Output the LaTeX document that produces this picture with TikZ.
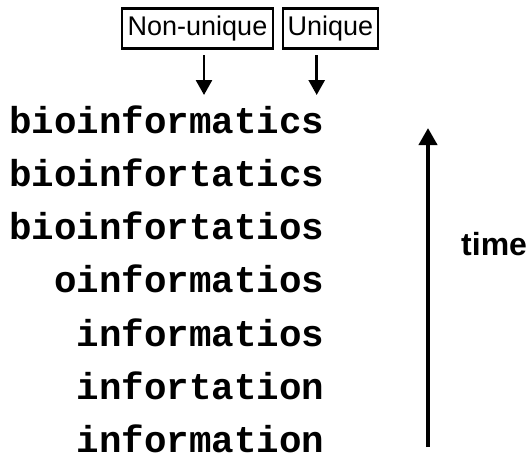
\documentclass[tikz,border=0pt]{standalone}
\usepackage{fontspec}
\setmainfont{Liberation Sans}
\newfontfamily\wordfont{Liberation Mono}
\usepackage{tikz}
\usetikzlibrary{arrows.meta}
\usetikzlibrary{positioning}

\begin{document}
\begin{tikzpicture}[x=1pt, y=-1pt,
    word/.style={anchor=base east, inner sep=0pt, text depth=0pt,
      font=\wordfont\bfseries\fontsize{37.5}{40}\selectfont},
    tag/.style={rectangle, draw, line width=2.2pt, minimum height=40pt, inner sep=0pt,
      font=\fontsize{27}{29}\selectfont},
    pointer/.style={line width=2.7pt, -{Triangle[length=15pt,width=16pt]}},
    timeline/.style={line width=4pt, -{Triangle[length=17pt,width=18pt]}},
  ]
\useasboundingbox (0,0) rectangle (529,459);
% Labels
\node(nonu)[tag, minimum width=151pt] at (197.5,28.5) {Non-unique};
\node(uniq)[tag, minimum width=95pt]  at (330.5,28.5) {Unique};
% Words, newest at the top
\foreach \w [count=\i] in {bioinformatics, bioinfortatics, bioinfortatios,
    oinformatios, informatios, infortation, information} {
  \node(w\i)[word] at (324.5,{133+53.3*(\i-1)}) {\w};
}
% Pointers
\coordinate(nonus) at (204,55);  \coordinate(nonue) at (204,95);
\coordinate(uniqs) at (316.7,55); \coordinate(uniqe) at (316.7,95);
\draw[pointer] (nonus) -- (nonue);
\draw[pointer] (uniqs) -- (uniqe);
% Time axis
\coordinate(tbot) at (428,447); \coordinate(ttop) at (428,128);
\draw[timeline] (tbot) -- (ttop);
\node(time)[anchor=base west, inner sep=0pt, font=\bfseries\fontsize{32}{34}\selectfont]
  at (461,255) {time};
\end{tikzpicture}
\end{document}
